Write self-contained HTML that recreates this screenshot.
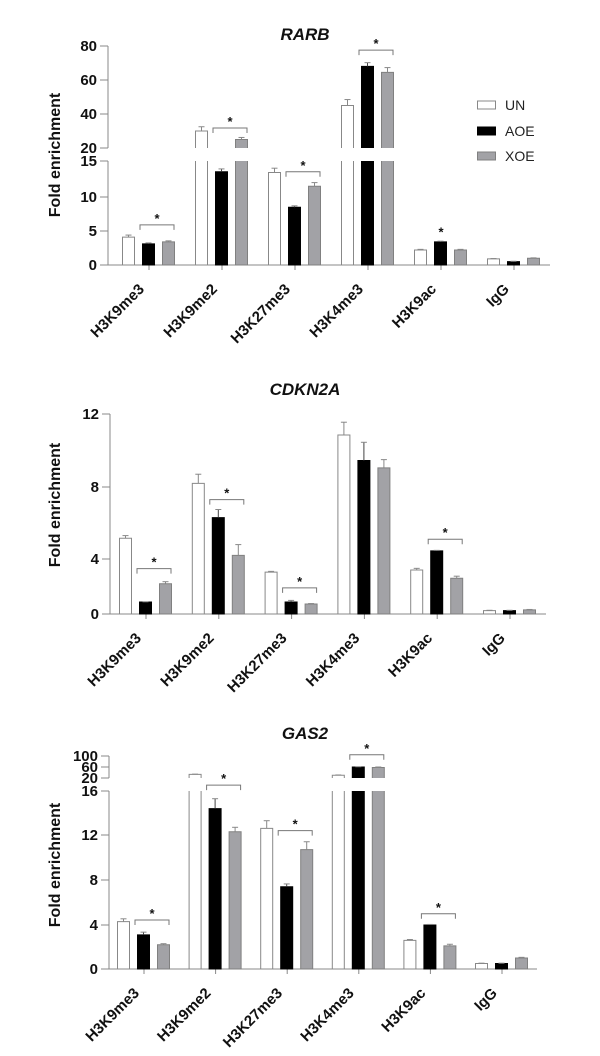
<!DOCTYPE html>
<html><head><meta charset="utf-8"><style>
html,body{margin:0;padding:0;background:#fff;}
svg{display:block;font-family:"Liberation Sans",Arial,sans-serif;}
</style></head><body>
<svg id="fig" width="600" height="1056" viewBox="0 0 600 1056"></svg>
<script>
// ---- shared categories / series ----
const categories = ["H3K9me3","H3K9me2","H3K27me3","H3K4me3","H3K9ac","IgG"];
const seriesNames = ["UN","AOE","XOE"];

// ---- RARB ----
const rarbUN  = [4.1, 30, 13.4, 45, 2.2, 0.9];
const rarbAOE = [3.1, 13.5, 8.5, 68, 3.4, 0.5];
const rarbXOE = [3.4, 25, 11.5, 64.5, 2.2, 1.0];
const rarbErrUN  = [0.3, 2.5, 0.6, 3.5, 0.1, 0.05];
const rarbErrAOE = [0.15, 0.4, 0.2, 2.2, 0.1, 0.05];
const rarbErrXOE = [0.15, 1.2, 0.5, 2.8, 0.1, 0.05];
const rarbTicksLow = [0,5,10,15];
const rarbTicksHigh = [20,40,60,80];
const rarbBrackets = [0,1,2,3];
const rarbBracketY = [5.9, 31.8, 13.5, 77.6];
const rarbStarOnly = [4];
const rarbStarY = [4.8];

// ---- CDKN2A ----
const cdkUN  = [5.15, 8.2, 3.05, 10.85, 3.2, 0.25];
const cdkAOE = [0.87, 6.3, 0.87, 9.45, 4.45, 0.25];
const cdkXOE = [2.2, 4.2, 0.73, 9.05, 2.6, 0.3];
const cdkErrUN  = [0.15, 0.5, 0.05, 0.7, 0.12, 0.02];
const cdkErrAOE = [0.02, 0.45, 0.12, 1.0, 0.03, 0.02];
const cdkErrXOE = [0.15, 0.6, 0.03, 0.45, 0.15, 0.03];
const cdkTicks = [0,4,8,12];
const cdkBrackets = [0,1,2,4];
const cdkBracketY = [3.3, 7.3, 1.9, 5.1];

// ---- GAS2 ----
const gasUN  = [4.3, 33, 12.6, 30, 2.6, 0.5];
const gasAOE = [3.1, 14.4, 7.4, 60, 4.0, 0.5];
const gasXOE = [2.2, 12.3, 10.7, 58, 2.1, 1.0];
const gasErrUN  = [0.25, 1, 0.7, 1, 0.08, 0.03];
const gasErrAOE = [0.25, 0.9, 0.25, 1, 0.05, 0.03];
const gasErrXOE = [0.1, 0.4, 0.7, 2, 0.15, 0.06];
const gasTicksLow = [0,4,8,12,16];
const gasTicksHigh = [20,60,100];
const gasBrackets = [0,1,2,3,4];
const gasBracketY = [4.45, 17.8, 12.4, 105, 5.0];

const NS = "http://www.w3.org/2000/svg";
const svg = document.getElementById('fig');
function mk(tag, attrs, parent){
  const e = document.createElementNS(NS, tag);
  for (const k in attrs) e.setAttribute(k, attrs[k]);
  (parent||svg).appendChild(e);
  return e;
}
function pw(bp){
  return function(v){
    for (let i=0;i<bp.length-1;i++){
      const a=bp[i], b=bp[i+1];
      if (v<=b[0] || i===bp.length-2){
        return a[1] + (v-a[0])/(b[0]-a[0])*(b[1]-a[1]);
      }
    }
  };
}

function drawChart(cfg){
  const g = mk('g', {});
  
  
  const y = pw(cfg.bp);
  const x0 = cfg.axisX, axisY = y(0);
  const gx = i => cfg.firstGroup + i*cfg.groupStep;

  const t = mk('text', {x:305, y:cfg.titleY, 'text-anchor':'middle', 'font-size':17, 'font-weight':'bold', 'font-style':'italic', fill:'#111'}, g);
  t.textContent = cfg.title;
  
  

  const yt = mk('text', {transform:`translate(60,${cfg.ylabY}) rotate(-90)`, 'text-anchor':'middle', 'font-size':16, 'font-weight':'bold', fill:'#111'}, g);
  yt.textContent = 'Fold enrichment';
  
  

  cfg.axisSegs.forEach(s=>{
    const l = mk('line', {x1:x0, x2:x0, y1:y(s[0]), y2:y(s[1]), stroke:'#888', 'stroke-width':1}, g);
    
    
  });
  cfg.ticks.forEach(v=>{
    mk('line', {x1:x0-8, x2:x0, y1:y(v), y2:y(v), stroke:'#888'}, g);
    const tl = mk('text', {x:x0-11, y:y(v)+5, 'text-anchor':'end', 'font-size':15, 'font-weight':'bold', fill:'#111'}, g);
    tl.textContent = v;
    
    
  });
  const xa = mk('line', {x1:x0, x2:cfg.axisEnd, y1:axisY, y2:axisY, stroke:'#888'}, g);
  
  

  const fills = ['#fff','#000','#a2a2a6'];
  const strokes = ['#888','#000','#808080'];
  const bw = 13, step = 20;
  categories.forEach((c,i)=>{
    const cx = gx(i);
    mk('line', {x1:cx, x2:cx, y1:axisY, y2:axisY+5, stroke:'#888'}, g);
    const lb = mk('text', {transform:`translate(${cx-4},${axisY+25}) rotate(-45)`, 'text-anchor':'end', 'font-size':15, 'font-weight':'bold', fill:'#111'}, g);
    lb.textContent = c;
    
    
    cfg.series.forEach((arr,s)=>{
      const v = arr[i], e = cfg.errs[s][i];
      const bx = cx - 27 + s*step;
      const bg = mk('g', {}, g);
      
      
      const broken = cfg.brk && v > cfg.brk[1];
      const segs = broken ? [[0,cfg.brk[0]],[cfg.brk[1],v]] : [[0,v]];
      const L = bx+0.5, R = bx+bw-0.5;
      segs.forEach((sg,si)=>{
        const top = y(sg[1]), bot = y(sg[0]);
        mk('rect', {x:L, y:top, width:R-L, height:Math.max(bot-top,0.5), fill:fills[s]}, bg);
        let d;
        if (broken && si===0) d = `M${L},${top} V${bot} H${R} V${top}`;
        else if (broken && si===1) d = `M${L},${bot} V${top} H${R} V${bot}`;
        else d = `M${L},${bot} V${top} H${R} V${bot} Z`;
        mk('path', {d:d, fill:'none', stroke:strokes[s], 'stroke-width':1}, bg);
      });
      const ey = y(v+e), mx = bx+bw/2;
      mk('line', {x1:mx, x2:mx, y1:y(v), y2:ey, stroke:strokes[s]==='#000'?'#444':'#888'}, bg);
      mk('line', {x1:mx-3, x2:mx+3, y1:ey, y2:ey, stroke:'#888'}, bg);
    });
  });
  cfg.brackets.forEach((gi,k)=>{
    const cx = gx(gi), by = y(cfg.bracketY[k]);
    const b = mk('path', {d:`M${cx-9},${by+5} V${by} H${cx+25} V${by+5}`, fill:'none', stroke:'#777'}, g);
    
    
    const st = mk('text', {x:cx+8, y:by-2, 'text-anchor':'middle', 'font-size':13, 'font-weight':'bold', fill:'#111'}, g);
    st.textContent = '*';
    
    
  });
  (cfg.starOnly||[]).forEach((gi,k)=>{
    const st = mk('text', {x:gx(gi), y:y(cfg.starY[k])+4, 'text-anchor':'middle', 'font-size':13, 'font-weight':'bold', fill:'#111'}, g);
    st.textContent = '*';
    
    
  });
}

drawChart({name:'rarb', title:'RARB', titleY:40, ylabY:155, axisX:108, axisEnd:550,
  bp:[[0,265],[5,231],[10,197],[15,161],[20,148],[40,114],[60,80],[80,46]],
  axisSegs:[[0,15],[20,80]], brk:[15,20],
  ticks: rarbTicksLow.concat(rarbTicksHigh),
  firstGroup:149, groupStep:73,
  series:[rarbUN,rarbAOE,rarbXOE], errs:[rarbErrUN,rarbErrAOE,rarbErrXOE],
  brackets:rarbBrackets, bracketY:rarbBracketY, starOnly:rarbStarOnly, starY:rarbStarY});

drawChart({name:'cdkn2a', title:'CDKN2A', titleY:395, ylabY:505, axisX:110, axisEnd:546,
  bp:[[0,614],[4,559],[8,487],[12,414]],
  axisSegs:[[0,12]], brk:null, ticks:cdkTicks,
  firstGroup:146, groupStep:72.8,
  series:[cdkUN,cdkAOE,cdkXOE], errs:[cdkErrUN,cdkErrAOE,cdkErrXOE],
  brackets:cdkBrackets, bracketY:cdkBracketY});

drawChart({name:'gas2', title:'GAS2', titleY:739, ylabY:865, axisX:109, axisEnd:537,
  bp:[[0,969],[4,925],[8,880],[12,835],[16,791],[20,778],[60,767],[100,756],[120,751]],
  axisSegs:[[0,16],[20,100]], brk:[16,20],
  ticks: gasTicksLow.concat(gasTicksHigh),
  firstGroup:144, groupStep:71.6,
  series:[gasUN,gasAOE,gasXOE], errs:[gasErrUN,gasErrAOE,gasErrXOE],
  brackets:gasBrackets, bracketY:gasBracketY});

const lg = mk('g', {});


const lf = ['#fff','#000','#a2a2a6'], ls = ['#888','#000','#808080'], ly = [105,131,156];
seriesNames.forEach((n,i)=>{
  const e = mk('g', {}, lg);
  
  
  mk('rect', {x:477.5, y:ly[i]-4, width:18, height:8, fill:lf[i], stroke:ls[i]}, e);
  const t = mk('text', {x:505, y:ly[i]+5, 'font-size':14, fill:'#222'}, e);
  t.textContent = n;
});
</script>
</body></html>
